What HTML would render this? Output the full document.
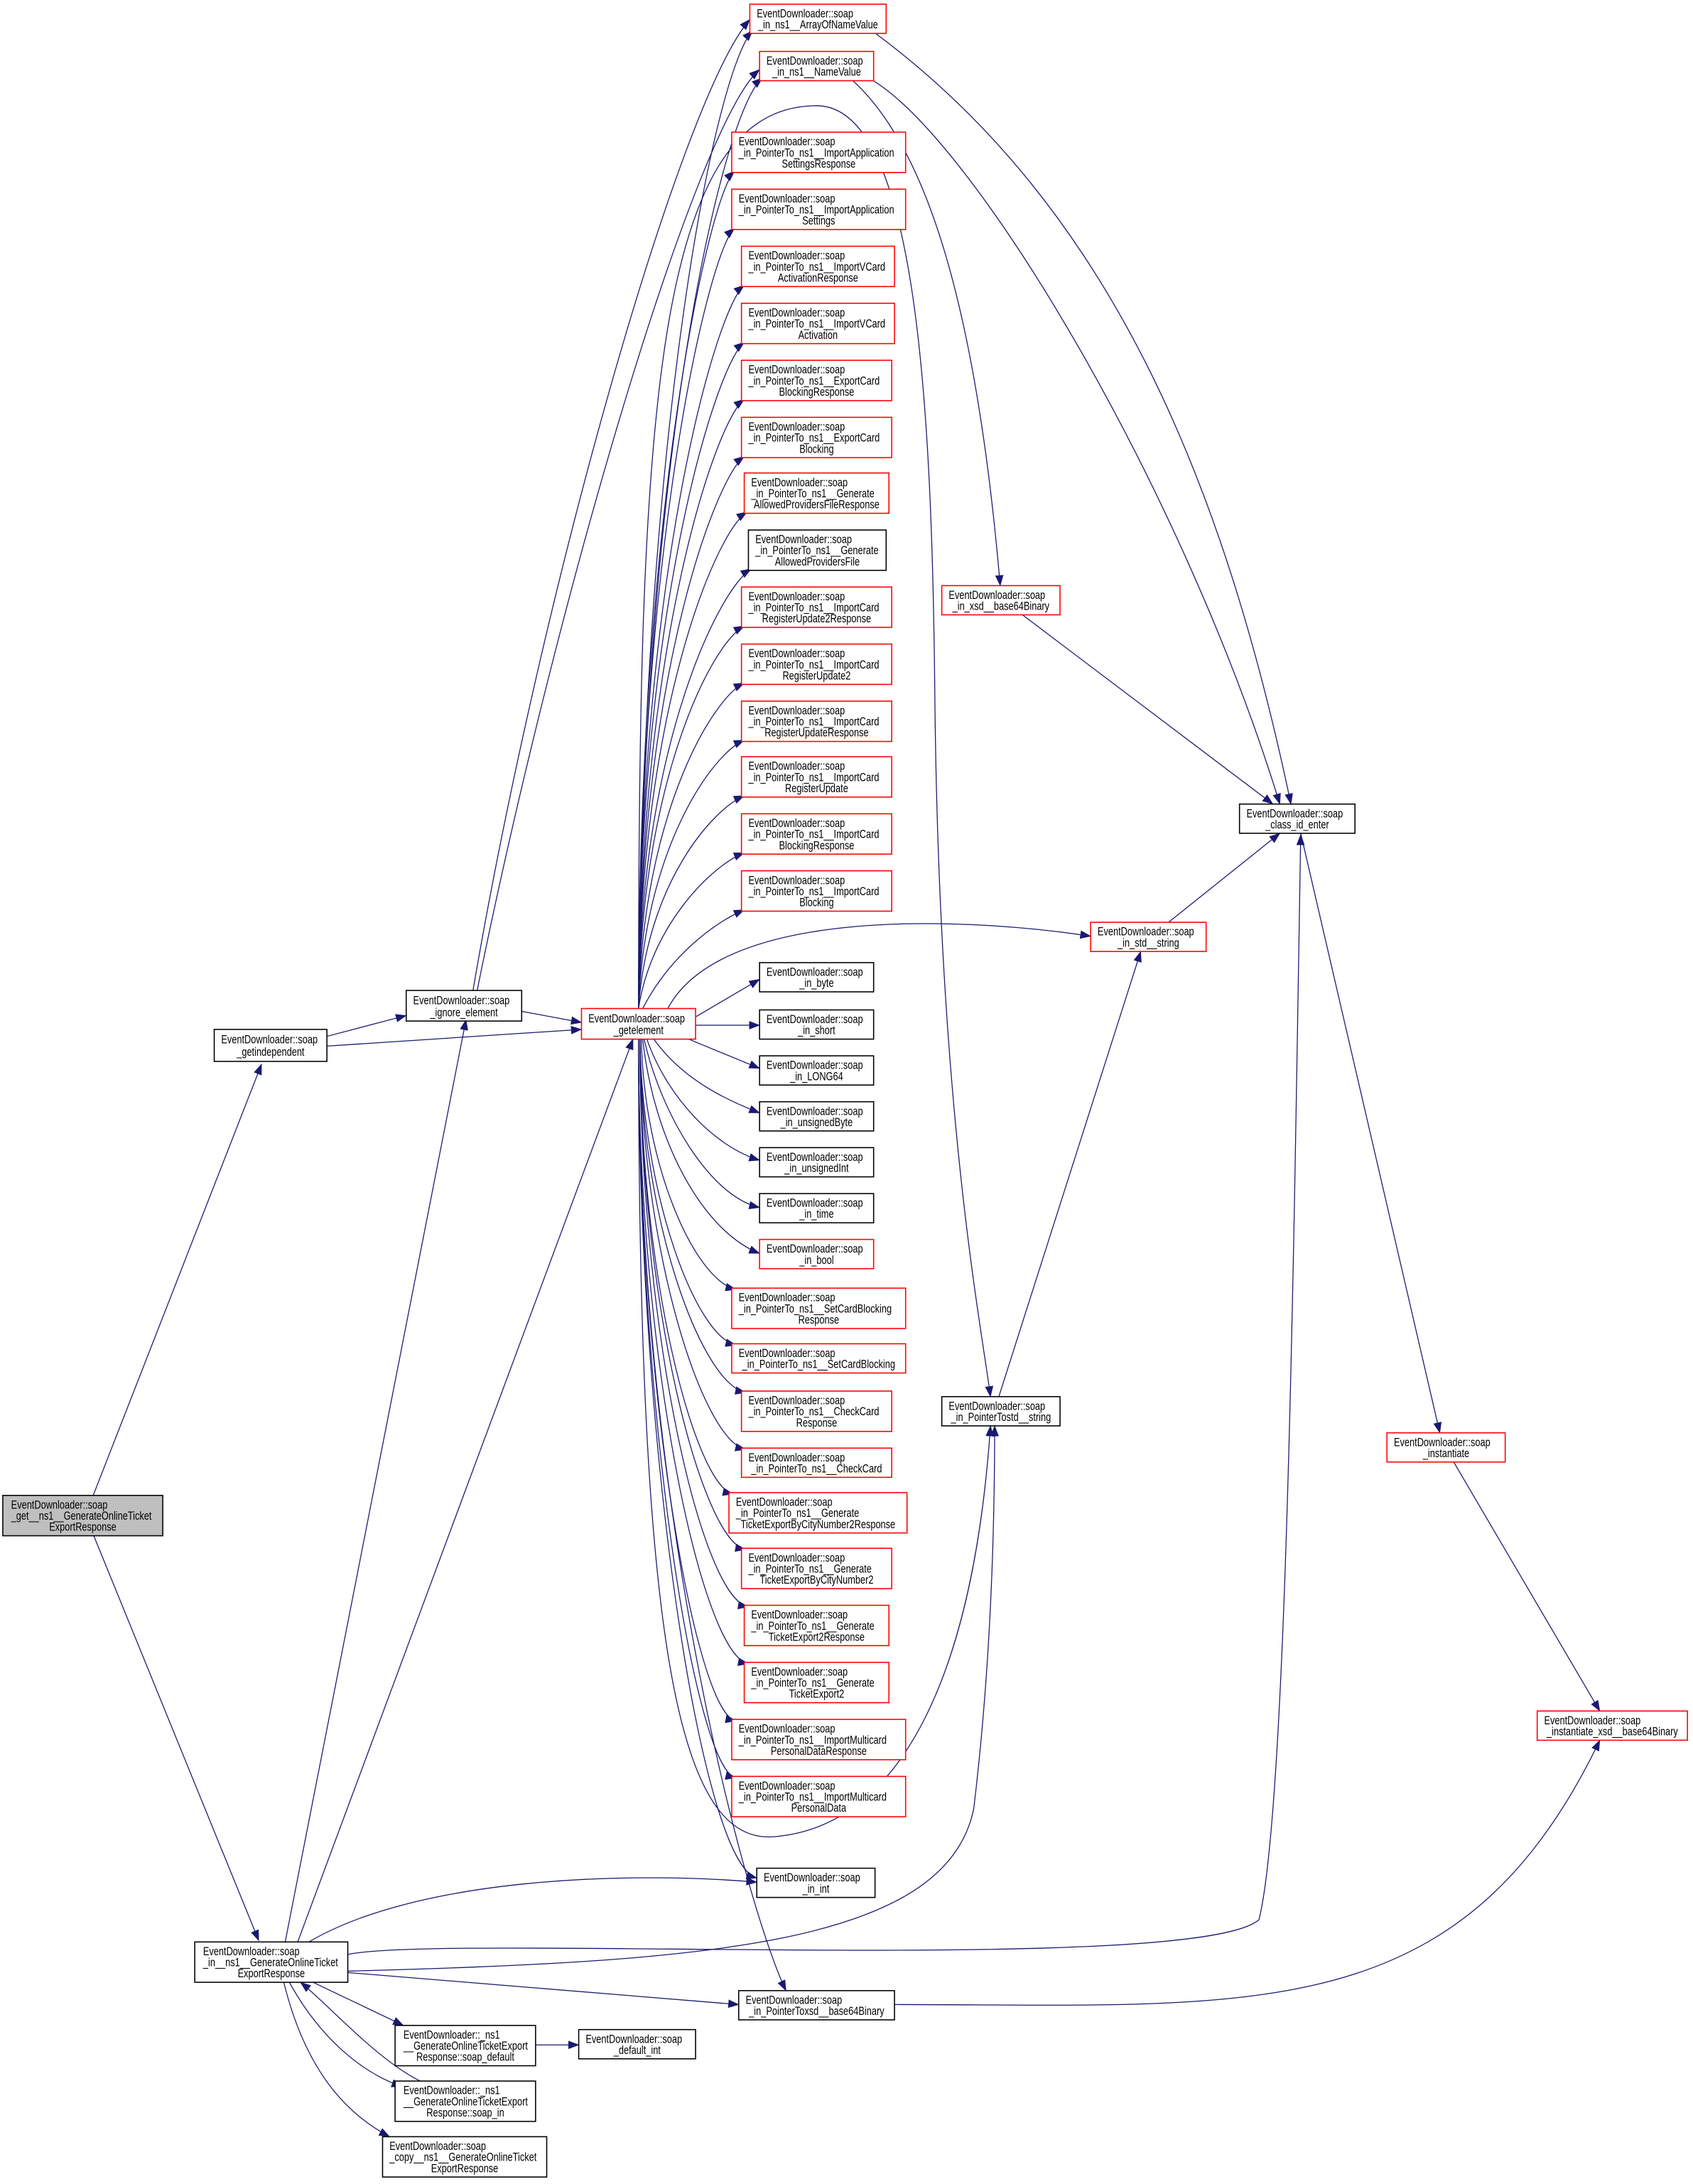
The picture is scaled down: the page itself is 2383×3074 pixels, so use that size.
<!DOCTYPE html>
<html><head><meta charset="utf-8"><style>
html,body{margin:0;padding:0;background:#fff}
svg{display:block}
text{font-family:"Liberation Sans",Arial,sans-serif;font-size:8.6px;fill:#000}
.e{fill:none;stroke:#191970;stroke-width:0.65}
.b{fill:#fff;stroke:#000;stroke-width:0.8}
.r{fill:#fff;stroke:#ff0000;stroke-width:0.8}
.g{fill:#bfbfbf;stroke:#000;stroke-width:0.8}
.m{text-anchor:middle}
</style></head><body>
<svg width="2383" height="3074" viewBox="0 0 1217 1570" preserveAspectRatio="none" xmlns="http://www.w3.org/2000/svg">
<defs><marker id="a" markerUnits="userSpaceOnUse" markerWidth="8" markerHeight="6" refX="7.5" refY="3" orient="auto"><path d="M0,0 L8,3 L0,6 z" fill="#191970"/></marker></defs>
<g class="e" marker-end="url(#a)">
<path d="M67,1075 L188,765"/>
<path d="M67,1103 L186,1395"/>
<path d="M235,745 L292,730"/>
<path d="M235,752 L418,740"/>
<path d="M375,727 L418,735"/>
<path d="M340,712 C390,420 490,70 539,14"/>
<path d="M343,712 C400,430 500,90 546,50"/>
<path d="M459,725 C462,300 515,50 541,22"/>
<path d="M459,725 C462,320 520,80 548,56"/>
<path d="M459,725 C459,365 510,140 528,123"/>
<path d="M459,725 C459,389 510,180 528,164"/>
<path d="M459,725 C459,413 515,221 535,205"/>
<path d="M459,725 C459,437 515,262 535,246"/>
<path d="M459,725 C460,460 515,302 535,287"/>
<path d="M459,725 C460,485 515,343 535,328"/>
<path d="M459,725 C460,510 515,382 537,368"/>
<path d="M459,725 C460,535 518,422 540,409"/>
<path d="M459,725 C461,560 512,462 535,450"/>
<path d="M459,725 C462,585 512,502 535,491"/>
<path d="M459,725 C463,610 512,542 535,532"/>
<path d="M459,725 C465,635 512,582 535,572"/>
<path d="M459,725 C468,665 512,622 535,613"/>
<path d="M462,725 C480,690 510,665 535,654"/>
<path d="M500,731 L546,704"/>
<path d="M500,737 L546,737"/>
<path d="M495,747 L546,768"/>
<path d="M470,747 C490,775 520,790 546,800"/>
<path d="M465,747 C480,790 515,825 546,834"/>
<path d="M463,747 C475,800 510,860 546,868"/>
<path d="M462,747 C470,820 505,885 546,901"/>
<path d="M461,747 C463,840 500,920 529,927"/>
<path d="M460,747 C462,860 500,960 529,967"/>
<path d="M460,747 C461,880 505,995 536,1001"/>
<path d="M460,747 C461,900 505,1035 536,1042"/>
<path d="M460,747 C460,920 500,1068 527,1074"/>
<path d="M460,747 C460,940 505,1108 536,1114"/>
<path d="M460,747 C460,960 505,1150 538,1155"/>
<path d="M459,747 C459,980 505,1190 538,1196"/>
<path d="M459,747 C459,1000 500,1232 529,1237"/>
<path d="M459,747 C459,1020 500,1272 529,1278"/>
<path d="M459,747 C459,1050 505,1340 544,1350"/>
<path d="M459,747 C459,1100 540,1380 565,1431"/>
<path d="M480,725 C520,650 700,660 784,673"/>
<path d="M459,747 C459,1200 490,1330 560,1320 C650,1310 700,1200 712,1025"/>
<path d="M459,725 C459,300 470,76 587,76 C660,76 670,300 672,500 C675,800 705,950 712,1004"/>
<path d="M612,57 C660,100 700,200 719,421"/>
<path d="M626,57 C700,100 850,350 920,578"/>
<path d="M628,23 C800,150 880,350 928,578"/>
<path d="M735,442 L915,578"/>
<path d="M840,663 L920,599"/>
<path d="M718,1004 L820,684"/>
<path d="M935,599 L1035,1030"/>
<path d="M1045,1051 L1150,1230"/>
<path d="M643,1441 C900,1441 1050,1460 1150,1251"/>
<path d="M250,1405 C320,1390 860,1420 905,1380 C925,1300 930,900 935,600"/>
<path d="M250,1417 C500,1410 680,1400 700,1300 C712,1200 715,1100 715,1025"/>
<path d="M205,1396 L335,733"/>
<path d="M214,1396 L455,747"/>
<path d="M222,1396 C300,1350 450,1345 544,1353"/>
<path d="M250,1418 L531,1441"/>
<path d="M225,1425 L290,1456"/>
<path d="M208,1425 C230,1465 260,1490 289,1500"/>
<path d="M302,1496 C270,1480 235,1440 216,1425"/>
<path d="M204,1425 C220,1490 250,1520 280,1536"/>
<path d="M385,1470 L416,1470"/>
</g>
<g>
<rect class="g" x="2" y="1075" width="115" height="29"/>
<text transform="translate(8,1084.5) scale(.76,1)">EventDownloader::soap</text>
<text transform="translate(8,1092.5) scale(.76,1)">_get__ns1__GenerateOnlineTicket</text>
<text class="m" transform="translate(59.5,1100.5) scale(.76,1)">ExportResponse</text>

<rect class="b" x="154" y="740" width="81" height="23"/>
<text transform="translate(159,750) scale(.76,1)">EventDownloader::soap</text>
<text class="m" transform="translate(194.5,759) scale(.76,1)">_getindependent</text>

<rect class="b" x="292" y="712" width="83" height="22"/>
<text transform="translate(297,722) scale(.76,1)">EventDownloader::soap</text>
<text class="m" transform="translate(333.5,730.5) scale(.76,1)">_ignore_element</text>

<rect class="r" x="418" y="725" width="82" height="22"/>
<text transform="translate(423,735) scale(.76,1)">EventDownloader::soap</text>
<text class="m" transform="translate(459,743.5) scale(.76,1)">_getelement</text>

<rect class="b" x="140" y="1396" width="110" height="29"/>
<text transform="translate(146,1405.5) scale(.76,1)">EventDownloader::soap</text>
<text transform="translate(146,1413.5) scale(.76,1)">_in__ns1__GenerateOnlineTicket</text>
<text class="m" transform="translate(195,1421.5) scale(.76,1)">ExportResponse</text>

<rect class="b" x="284" y="1456" width="101" height="29"/>
<text transform="translate(290,1465.5) scale(.76,1)">EventDownloader::_ns1</text>
<text transform="translate(290,1473.5) scale(.76,1)">__GenerateOnlineTicketExport</text>
<text class="m" transform="translate(334.5,1481.5) scale(.76,1)">Response::soap_default</text>

<rect class="b" x="284" y="1496" width="101" height="29"/>
<text transform="translate(290,1505.5) scale(.76,1)">EventDownloader::_ns1</text>
<text transform="translate(290,1513.5) scale(.76,1)">__GenerateOnlineTicketExport</text>
<text class="m" transform="translate(334.5,1521.5) scale(.76,1)">Response::soap_in</text>

<rect class="b" x="275" y="1536" width="118" height="29"/>
<text transform="translate(280,1545.5) scale(.76,1)">EventDownloader::soap</text>
<text transform="translate(280,1553.5) scale(.76,1)">_copy__ns1__GenerateOnlineTicket</text>
<text class="m" transform="translate(334,1561.5) scale(.76,1)">ExportResponse</text>

<rect class="b" x="416" y="1459" width="84" height="21"/>
<text transform="translate(421,1468.5) scale(.76,1)">EventDownloader::soap</text>
<text class="m" transform="translate(458,1476.5) scale(.76,1)">_default_int</text>

<rect class="r" x="539" y="3" width="98" height="21"/>
<text transform="translate(544,12.5) scale(.76,1)">EventDownloader::soap</text>
<text class="m" transform="translate(588,20.5) scale(.76,1)">_in_ns1__ArrayOfNameValue</text>

<rect class="r" x="546" y="37" width="82" height="21"/>
<text transform="translate(551,46.5) scale(.76,1)">EventDownloader::soap</text>
<text class="m" transform="translate(587,54.5) scale(.76,1)">_in_ns1__NameValue</text>

<rect class="r" x="526" y="95" width="125" height="29"/>
<text transform="translate(531,104.5) scale(.76,1)">EventDownloader::soap</text>
<text transform="translate(531,112.5) scale(.76,1)">_in_PointerTo_ns1__ImportApplication</text>
<text class="m" transform="translate(588.5,120.5) scale(.76,1)">SettingsResponse</text>

<rect class="r" x="526" y="136" width="125" height="29"/>
<text transform="translate(531,145.5) scale(.76,1)">EventDownloader::soap</text>
<text transform="translate(531,153.5) scale(.76,1)">_in_PointerTo_ns1__ImportApplication</text>
<text class="m" transform="translate(588.5,161.5) scale(.76,1)">Settings</text>

<rect class="r" x="533" y="177" width="110" height="29"/>
<text transform="translate(538,186.5) scale(.76,1)">EventDownloader::soap</text>
<text transform="translate(538,194.5) scale(.76,1)">_in_PointerTo_ns1__ImportVCard</text>
<text class="m" transform="translate(588,202.5) scale(.76,1)">ActivationResponse</text>

<rect class="r" x="533" y="218" width="110" height="29"/>
<text transform="translate(538,227.5) scale(.76,1)">EventDownloader::soap</text>
<text transform="translate(538,235.5) scale(.76,1)">_in_PointerTo_ns1__ImportVCard</text>
<text class="m" transform="translate(588,243.5) scale(.76,1)">Activation</text>

<rect class="r" x="533" y="259" width="108" height="29"/>
<text transform="translate(538,268.5) scale(.76,1)">EventDownloader::soap</text>
<text transform="translate(538,276.5) scale(.76,1)">_in_PointerTo_ns1__ExportCard</text>
<text class="m" transform="translate(587,284.5) scale(.76,1)">BlockingResponse</text>

<rect class="r" x="533" y="300" width="108" height="29"/>
<text transform="translate(538,309.5) scale(.76,1)">EventDownloader::soap</text>
<text transform="translate(538,317.5) scale(.76,1)">_in_PointerTo_ns1__ExportCard</text>
<text class="m" transform="translate(587,325.5) scale(.76,1)">Blocking</text>

<rect class="r" x="535" y="340" width="104" height="29"/>
<text transform="translate(540,349.5) scale(.76,1)">EventDownloader::soap</text>
<text transform="translate(540,357.5) scale(.76,1)">_in_PointerTo_ns1__Generate</text>
<text class="m" transform="translate(587,365.5) scale(.76,1)">AllowedProvidersFileResponse</text>

<rect class="b" x="538" y="381" width="99" height="29"/>
<text transform="translate(543,390.5) scale(.76,1)">EventDownloader::soap</text>
<text transform="translate(543,398.5) scale(.76,1)">_in_PointerTo_ns1__Generate</text>
<text class="m" transform="translate(587.5,406.5) scale(.76,1)">AllowedProvidersFile</text>

<rect class="r" x="533" y="422" width="108" height="29"/>
<text transform="translate(538,431.5) scale(.76,1)">EventDownloader::soap</text>
<text transform="translate(538,439.5) scale(.76,1)">_in_PointerTo_ns1__ImportCard</text>
<text class="m" transform="translate(587,447.5) scale(.76,1)">RegisterUpdate2Response</text>

<rect class="r" x="533" y="463" width="108" height="29"/>
<text transform="translate(538,472.5) scale(.76,1)">EventDownloader::soap</text>
<text transform="translate(538,480.5) scale(.76,1)">_in_PointerTo_ns1__ImportCard</text>
<text class="m" transform="translate(587,488.5) scale(.76,1)">RegisterUpdate2</text>

<rect class="r" x="533" y="504" width="108" height="29"/>
<text transform="translate(538,513.5) scale(.76,1)">EventDownloader::soap</text>
<text transform="translate(538,521.5) scale(.76,1)">_in_PointerTo_ns1__ImportCard</text>
<text class="m" transform="translate(587,529.5) scale(.76,1)">RegisterUpdateResponse</text>

<rect class="r" x="533" y="544" width="108" height="29"/>
<text transform="translate(538,553.5) scale(.76,1)">EventDownloader::soap</text>
<text transform="translate(538,561.5) scale(.76,1)">_in_PointerTo_ns1__ImportCard</text>
<text class="m" transform="translate(587,569.5) scale(.76,1)">RegisterUpdate</text>

<rect class="r" x="533" y="585" width="108" height="29"/>
<text transform="translate(538,594.5) scale(.76,1)">EventDownloader::soap</text>
<text transform="translate(538,602.5) scale(.76,1)">_in_PointerTo_ns1__ImportCard</text>
<text class="m" transform="translate(587,610.5) scale(.76,1)">BlockingResponse</text>

<rect class="r" x="533" y="626" width="108" height="29"/>
<text transform="translate(538,635.5) scale(.76,1)">EventDownloader::soap</text>
<text transform="translate(538,643.5) scale(.76,1)">_in_PointerTo_ns1__ImportCard</text>
<text class="m" transform="translate(587,651.5) scale(.76,1)">Blocking</text>

<rect class="b" x="546" y="692" width="82" height="21"/>
<text transform="translate(551,701.5) scale(.76,1)">EventDownloader::soap</text>
<text class="m" transform="translate(587,709.5) scale(.76,1)">_in_byte</text>

<rect class="b" x="546" y="726" width="82" height="21"/>
<text transform="translate(551,735.5) scale(.76,1)">EventDownloader::soap</text>
<text class="m" transform="translate(587,743.5) scale(.76,1)">_in_short</text>

<rect class="b" x="546" y="759" width="82" height="21"/>
<text transform="translate(551,768.5) scale(.76,1)">EventDownloader::soap</text>
<text class="m" transform="translate(587,776.5) scale(.76,1)">_in_LONG64</text>

<rect class="b" x="546" y="792" width="82" height="21"/>
<text transform="translate(551,801.5) scale(.76,1)">EventDownloader::soap</text>
<text class="m" transform="translate(587,809.5) scale(.76,1)">_in_unsignedByte</text>

<rect class="b" x="546" y="825" width="82" height="21"/>
<text transform="translate(551,834.5) scale(.76,1)">EventDownloader::soap</text>
<text class="m" transform="translate(587,842.5) scale(.76,1)">_in_unsignedInt</text>

<rect class="b" x="546" y="858" width="82" height="21"/>
<text transform="translate(551,867.5) scale(.76,1)">EventDownloader::soap</text>
<text class="m" transform="translate(587,875.5) scale(.76,1)">_in_time</text>

<rect class="r" x="546" y="891" width="82" height="21"/>
<text transform="translate(551,900.5) scale(.76,1)">EventDownloader::soap</text>
<text class="m" transform="translate(587,908.5) scale(.76,1)">_in_bool</text>

<rect class="r" x="526" y="926" width="125" height="29"/>
<text transform="translate(531,935.5) scale(.76,1)">EventDownloader::soap</text>
<text transform="translate(531,943.5) scale(.76,1)">_in_PointerTo_ns1__SetCardBlocking</text>
<text class="m" transform="translate(588.5,951.5) scale(.76,1)">Response</text>

<rect class="r" x="526" y="966" width="125" height="21"/>
<text transform="translate(531,975.5) scale(.76,1)">EventDownloader::soap</text>
<text class="m" transform="translate(588.5,983.5) scale(.76,1)">_in_PointerTo_ns1__SetCardBlocking</text>

<rect class="r" x="533" y="1000" width="108" height="29"/>
<text transform="translate(538,1009.5) scale(.76,1)">EventDownloader::soap</text>
<text transform="translate(538,1017.5) scale(.76,1)">_in_PointerTo_ns1__CheckCard</text>
<text class="m" transform="translate(587,1025.5) scale(.76,1)">Response</text>

<rect class="r" x="533" y="1041" width="108" height="21"/>
<text transform="translate(538,1050.5) scale(.76,1)">EventDownloader::soap</text>
<text class="m" transform="translate(587,1058.5) scale(.76,1)">_in_PointerTo_ns1__CheckCard</text>

<rect class="r" x="524" y="1073" width="128" height="29"/>
<text transform="translate(529,1082.5) scale(.76,1)">EventDownloader::soap</text>
<text transform="translate(529,1090.5) scale(.76,1)">_in_PointerTo_ns1__Generate</text>
<text class="m" transform="translate(588,1098.5) scale(.76,1)">TicketExportByCityNumber2Response</text>

<rect class="r" x="533" y="1113" width="108" height="29"/>
<text transform="translate(538,1122.5) scale(.76,1)">EventDownloader::soap</text>
<text transform="translate(538,1130.5) scale(.76,1)">_in_PointerTo_ns1__Generate</text>
<text class="m" transform="translate(587,1138.5) scale(.76,1)">TicketExportByCityNumber2</text>

<rect class="r" x="535" y="1154" width="104" height="29"/>
<text transform="translate(540,1163.5) scale(.76,1)">EventDownloader::soap</text>
<text transform="translate(540,1171.5) scale(.76,1)">_in_PointerTo_ns1__Generate</text>
<text class="m" transform="translate(587,1179.5) scale(.76,1)">TicketExport2Response</text>

<rect class="r" x="535" y="1195" width="104" height="29"/>
<text transform="translate(540,1204.5) scale(.76,1)">EventDownloader::soap</text>
<text transform="translate(540,1212.5) scale(.76,1)">_in_PointerTo_ns1__Generate</text>
<text class="m" transform="translate(587,1220.5) scale(.76,1)">TicketExport2</text>

<rect class="r" x="526" y="1236" width="125" height="29"/>
<text transform="translate(531,1245.5) scale(.76,1)">EventDownloader::soap</text>
<text transform="translate(531,1253.5) scale(.76,1)">_in_PointerTo_ns1__ImportMulticard</text>
<text class="m" transform="translate(588.5,1261.5) scale(.76,1)">PersonalDataResponse</text>

<rect class="r" x="526" y="1277" width="125" height="29"/>
<text transform="translate(531,1286.5) scale(.76,1)">EventDownloader::soap</text>
<text transform="translate(531,1294.5) scale(.76,1)">_in_PointerTo_ns1__ImportMulticard</text>
<text class="m" transform="translate(588.5,1302.5) scale(.76,1)">PersonalData</text>

<rect class="b" x="544" y="1343" width="85" height="21"/>
<text transform="translate(549,1352.5) scale(.76,1)">EventDownloader::soap</text>
<text class="m" transform="translate(586.5,1360.5) scale(.76,1)">_in_int</text>

<rect class="b" x="531" y="1431" width="112" height="21"/>
<text transform="translate(536,1440.5) scale(.76,1)">EventDownloader::soap</text>
<text class="m" transform="translate(587,1448.5) scale(.76,1)">_in_PointerToxsd__base64Binary</text>

<rect class="r" x="677" y="421" width="85" height="21"/>
<text transform="translate(682,430.5) scale(.76,1)">EventDownloader::soap</text>
<text class="m" transform="translate(719.5,438.5) scale(.76,1)">_in_xsd__base64Binary</text>

<rect class="r" x="784" y="663" width="83" height="21"/>
<text transform="translate(789,672.5) scale(.76,1)">EventDownloader::soap</text>
<text class="m" transform="translate(825.5,680.5) scale(.76,1)">_in_std__string</text>

<rect class="b" x="677" y="1004" width="85" height="21"/>
<text transform="translate(682,1013.5) scale(.76,1)">EventDownloader::soap</text>
<text class="m" transform="translate(719.5,1021.5) scale(.76,1)">_in_PointerTostd__string</text>

<rect class="b" x="891" y="578" width="83" height="21"/>
<text transform="translate(896,587.5) scale(.76,1)">EventDownloader::soap</text>
<text class="m" transform="translate(932.5,595.5) scale(.76,1)">_class_id_enter</text>

<rect class="r" x="997" y="1030" width="85" height="21"/>
<text transform="translate(1002,1039.5) scale(.76,1)">EventDownloader::soap</text>
<text class="m" transform="translate(1039.5,1047.5) scale(.76,1)">_instantiate</text>

<rect class="r" x="1105" y="1230" width="108" height="21"/>
<text transform="translate(1110,1239.5) scale(.76,1)">EventDownloader::soap</text>
<text class="m" transform="translate(1159,1247.5) scale(.76,1)">_instantiate_xsd__base64Binary</text>
</g>
</svg>
</body></html>
